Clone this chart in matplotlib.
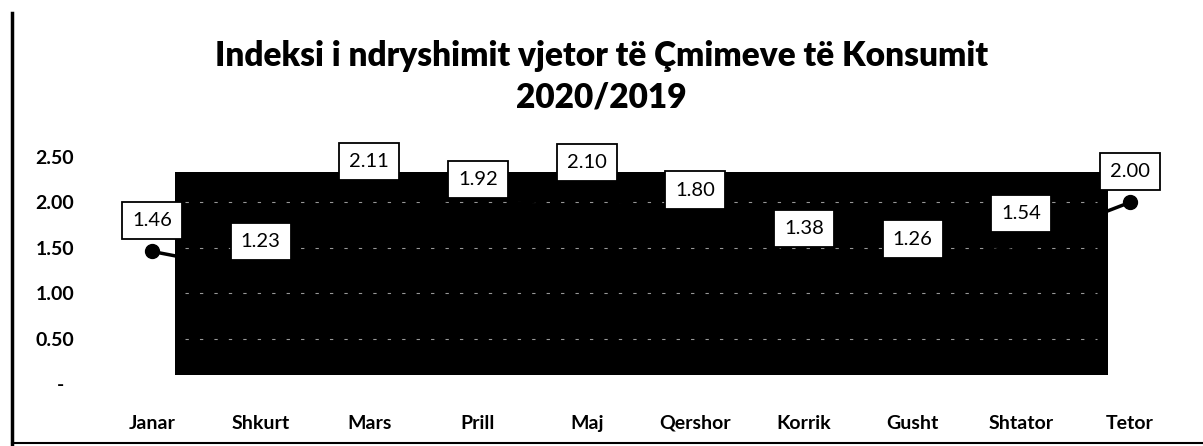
import matplotlib.pyplot as plt
from matplotlib.patches import Rectangle
from matplotlib.lines import Line2D

# Indeksi i ndryshimit vjetor te CPI, 2020/2019
muajt = ["Janar", "Shkurt", "Mars", "Prill", "Maj", "Qershor", "Korrik", "Gusht", "Shtator", "Tetor"]
vlerat = [1.46, 1.23, 2.11, 1.92, 2.10, 1.80, 1.38, 1.26, 1.54, 2.00]
y_ticks = [0, 0.5, 1.0, 1.5, 2.0, 2.5]
y_labels = ["-  ", "0.50", "1.00", "1.50", "2.00", "2.50"]

plt.rcParams['font.family'] = ['Lato', 'DejaVu Sans']

fig = plt.figure(figsize=(12.03, 4.46), dpi=100)
ax = fig.add_axes([0.0812, 0.139, 0.9032, 0.509])

x = list(range(len(muajt)))

# zona e erret (si ne skanim)
ax.add_patch(Rectangle((0.21, 0.1), 8.59, 2.23, facecolor='black', edgecolor='none', zorder=1))
ax.hlines(y_ticks[1:5], 0.3, 8.7, colors='white', linestyles=(0, (3, 10)), lw=0.8, alpha=0.6, zorder=1.5)

ax.plot(x, vlerat, '-o', color='black', lw=2.5, markersize=10, zorder=2)

for xi, v in zip(x, vlerat):
    ax.annotate(f"{v:.2f}", (xi, v), xytext=(0, 22), textcoords='offset points',
                ha='center', va='center', fontsize=14.5, zorder=3, annotation_clip=False,
                bbox=dict(boxstyle='square,pad=0.5', fc='white', ec='black', lw=1.3))

ax.set_xlim(-0.5, len(muajt) - 0.5)
ax.set_ylim(0, 2.5)
ax.set_xticks(x)
ax.set_xticklabels(muajt, fontsize=14, fontweight='bold')
ax.set_yticks(y_ticks)
ax.set_yticklabels(y_labels, fontsize=14, fontweight='bold')
ax.tick_params(axis='x', length=0, pad=22)
ax.tick_params(axis='y', length=0, pad=17)
for s in ax.spines.values():
    s.set_visible(False)

fig.text(0.5, 0.852, "Indeksi i ndryshimit vjetor të Çmimeve të Konsumit",
         ha='center', va='baseline', fontsize=24, fontweight='heavy')
fig.text(0.5, 0.758, "2020/2019", ha='center', va='baseline', fontsize=24, fontweight='heavy')

# kufiri i grafikut
fig.add_artist(Line2D([0.010, 0.010], [0.004, 0.971], color='black', lw=2.5))
fig.add_artist(Line2D([0.010, 1.0], [0.007, 0.007], color='black', lw=1.5))

fig.savefig("out.png", dpi=100)
